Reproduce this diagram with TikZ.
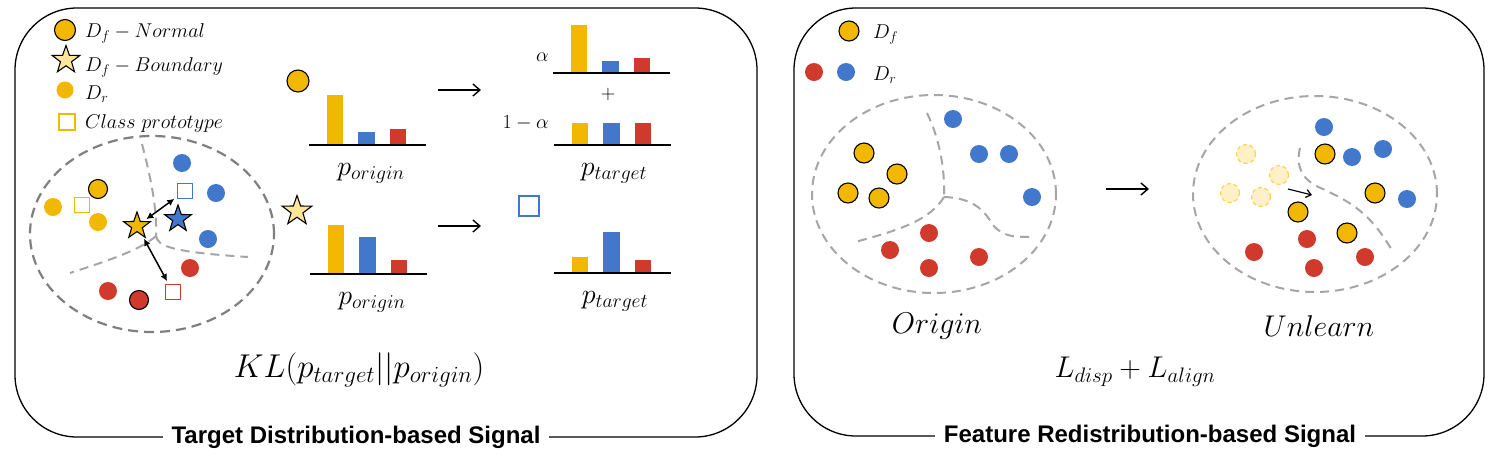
\RequirePackage{fix-cm}
\documentclass[tikz,border=0pt]{standalone}
\usepackage{fontspec}
\newfontfamily\headfont{Liberation Sans}
\usetikzlibrary{arrows.meta,shapes.geometric,positioning}

\definecolor{cgold}{HTML}{F2B800}
\definecolor{cblue}{HTML}{4178CC}
\definecolor{cred}{HTML}{D03A2D}
\definecolor{cpale}{HTML}{FFE699}
\definecolor{cfade}{HTML}{FFF0C8}
\definecolor{cfadeline}{HTML}{FFD250}
\definecolor{cdash}{HTML}{7F7F7F}
\definecolor{clight}{HTML}{A6A6A6}

\tikzset{
  panel/.style={line width=1.3pt,rounded corners=62pt,fill=white},
  paneltitle/.style={fill=white,inner xsep=9pt,font=\headfont\bfseries\fontsize{24}{28}\selectfont},
  fdot/.style={circle,draw=black,line width=1.1pt,fill=#1,minimum size=20pt,inner sep=0pt},
  fdot/.default=cgold,
  rdot/.style={circle,fill=#1,minimum size=18pt,inner sep=0pt},
  ghost/.style={circle,draw=cfadeline,line width=1.2pt,dash pattern=on 4pt off 3pt,fill=cfade,minimum size=19pt,inner sep=0pt},
  proto/.style={draw=#1,line width=1.5pt,minimum size=15pt,inner sep=0pt},
  fstar/.style={star,star points=5,star point ratio=2.5,draw=black,line width=1.1pt,fill=#1,minimum size=29pt,inner sep=0pt},
  clusteredge/.style={draw=cdash,line width=2.2pt,dash pattern=on 10pt off 6pt},
  boundary/.style={draw=clight,line width=2pt,dash pattern=on 9pt off 6pt},
  lbl/.style={font=\fontsize{20}{24}\selectfont,inner sep=0pt},
  plbl/.style={font=\fontsize{28}{32}\selectfont,inner sep=0pt},
  biglbl/.style={font=\fontsize{30}{34}\selectfont,inner sep=0pt},
  flow/.style={line width=1.4pt,-{Straight Barb[length=7pt,width=12pt]}},
  pull/.style={line width=1.5pt,{Latex[length=7pt,width=7pt]}-{Latex[length=7pt,width=7pt]}}
}

% #1 left x, #2 baseline y, #3-#5 bar heights
\newcommand{\distbars}[5]{%
  \fill[cgold] (#1+18,#2) rectangle ++(16,-#3);
  \fill[cblue] (#1+49,#2) rectangle ++(17,-#4);
  \fill[cred] (#1+81,#2) rectangle ++(16,-#5);
  \draw[line width=1.6pt] (#1,#2) -- ++(117,0);
}

\begin{document}
\begin{tikzpicture}[x=1pt,y=-1pt]
\useasboundingbox (0,0) rectangle (1497,467);

% left panel
\draw[panel] (15,8) rectangle (757,437);
\node[paneltitle] (ltitle) at (356,437) {Target Distribution-based Signal};

% legend
\node[fdot,minimum size=21pt] (lgnorm) at (65,30) {};
\node[fstar=cpale] (lgbound) at (66,60) {};
\node[rdot=cgold,minimum size=17pt] (lgret) at (65,90) {};
\node[proto=cgold,minimum size=16pt] (lgproto) at (67,122) {};
\node[lbl,anchor=base west] (lgnormtxt) at (85,37) {$D_f - Normal$};
\node[lbl,anchor=base west] (lgboundtxt) at (85,71) {$D_f - Boundary$};
\node[lbl,anchor=base west] (lgrettxt) at (85,99) {$D_r$};
\node[lbl,anchor=base west] (lgprototxt) at (85,128) {$Class\ prototype$};

% feature cluster
\draw[clusteredge] (152,234) ellipse [x radius=122pt,y radius=98pt];
\draw[boundary] (142,144) .. controls (150,175) and (157,205) .. (156,236);
\draw[boundary] (156,236) .. controls (158,246) and (170,252) .. (248,257);
\draw[boundary] (156,236) .. controls (140,250) and (110,260) .. (70,273);

\node[rdot=cgold] (y1) at (53,207) {};
\node[rdot=cgold] (y2) at (98,222) {};
\node[fdot,minimum size=19pt] (yf) at (98,189) {};
\node[proto=cgold] (yproto) at (82,205) {};
\node[rdot=cblue] (b1) at (182,163) {};
\node[rdot=cblue] (b2) at (216,193) {};
\node[rdot=cblue] (b3) at (208,239) {};
\node[proto=cblue] (bproto) at (185,191) {};
\node[rdot=cred] (r1) at (190,268) {};
\node[rdot=cred] (r2) at (108,291) {};
\node[fdot=cred,minimum size=19pt] (rf) at (139,300) {};
\node[proto=cred] (rproto) at (173,292) {};
\node[fstar=cgold,minimum size=28pt] (ystar) at (137,226) {};
\node[fstar=cblue,minimum size=28pt] (bstar) at (178,219) {};

\draw[pull,shorten <=3pt,shorten >=3pt] (ystar) -- (bproto);
\draw[pull,shorten <=3pt,shorten >=3pt] (ystar) -- (rproto);

% target distributions
\node[fdot,minimum size=22pt] (normal) at (298,81) {};
\distbars{309}{145}{50}{13}{16}
\node[plbl] (porig1) at (371,173) {$p_{origin}$};
\coordinate (f1s) at (438,90);
\coordinate (f1e) at (481,90);
\draw[flow] (f1s) -- (f1e);
\distbars{553}{73}{48}{12}{15}
\node[lbl,anchor=east] (alpha) at (549,57) {$\alpha$};
\node[lbl] (plus) at (608,94) {$+$};
\distbars{554}{145}{22}{22}{22}
\node[lbl,anchor=east] (calpha) at (549,123) {$1-\alpha$};
\node[plbl] (ptarg1) at (614,173) {$p_{target}$};

\node[fstar=cpale,minimum size=31pt] (bound) at (297,211) {};
\distbars{310}{274}{49}{37}{14}
\node[plbl] (porig2) at (372,302) {$p_{origin}$};
\coordinate (f2s) at (438,226);
\coordinate (f2e) at (481,226);
\draw[flow] (f2s) -- (f2e);
\node[proto=cblue,minimum size=20pt] (tproto) at (529,206) {};
\distbars{554}{273}{16}{41}{13}
\node[plbl] (ptarg2) at (615,301) {$p_{target}$};

\node[font=\fontsize{33}{38}\selectfont,inner sep=0pt] (kl) at (359,370) {$KL(p_{target}||p_{origin})$};

% right panel
\draw[panel] (794,8) rectangle (1484,436);
\node[paneltitle] (rtitle) at (1150,436) {Feature Redistribution-based Signal};

\node[fdot] (rgforget) at (849,31) {};
\node[rdot=cred] (rgred) at (814,72) {};
\node[rdot=cblue] (rgblue) at (846,72) {};
\node[lbl,anchor=base west] (rgforgettxt) at (873,38) {$D_f$};
\node[lbl,anchor=base west] (rgrettxt) at (873,80) {$D_r$};

% origin
\draw[boundary] (934,194) ellipse [x radius=122pt,y radius=99pt];
\draw[boundary] (927,113) .. controls (940,140) and (945,170) .. (944,197);
\draw[boundary] (944,197) .. controls (975,198) and (985,212) .. (993,225) .. controls (1003,237) and (1015,237) .. (1030,237);
\draw[boundary] (944,197) .. controls (930,220) and (900,230) .. (855,242);
\node[fdot] (o1) at (864,153) {};
\node[fdot] (o2) at (897,174) {};
\node[fdot] (o3) at (848,193) {};
\node[fdot] (o4) at (879,198) {};
\node[rdot=cblue] (o5) at (953,119) {};
\node[rdot=cblue] (o6) at (979,154) {};
\node[rdot=cblue] (o7) at (1009,154) {};
\node[rdot=cblue] (o8) at (1032,197) {};
\node[rdot=cred] (o9) at (929,233) {};
\node[rdot=cred] (o10) at (890,250) {};
\node[rdot=cred] (o11) at (929,268) {};
\node[rdot=cred] (o12) at (979,257) {};
\node[biglbl] (origin) at (937,326) {$Origin$};

\coordinate (f3s) at (1106,189);
\coordinate (f3e) at (1149,189);
\draw[flow] (f3s) -- (f3e);

% unlearn
\draw[boundary] (1315,194) ellipse [x radius=122pt,y radius=98pt];
\draw[boundary] (1300,148) .. controls (1296,165) and (1300,180) .. (1323,189) .. controls (1350,202) and (1370,212) .. (1393,252);
\node[ghost] (g1) at (1246,154) {};
\node[ghost] (g2) at (1279,175) {};
\node[ghost] (g3) at (1230,193) {};
\node[ghost] (g4) at (1261,197) {};
\node[fdot] (u1) at (1325,154) {};
\node[fdot] (u2) at (1375,193) {};
\node[fdot] (u3) at (1298,212) {};
\node[fdot] (u4) at (1347,233) {};
\node[rdot=cblue] (u5) at (1324,127) {};
\node[rdot=cblue] (u6) at (1352,157) {};
\node[rdot=cblue] (u7) at (1383,149) {};
\node[rdot=cblue] (u8) at (1407,199) {};
\node[rdot=cred] (u9) at (1307,239) {};
\node[rdot=cred] (u10) at (1254,252) {};
\node[rdot=cred] (u11) at (1314,268) {};
\node[rdot=cred] (u12) at (1365,257) {};
\coordinate (mvs) at (1288,189);
\coordinate (mve) at (1312,195);
\draw[line width=1.2pt,-{Straight Barb[length=5pt,width=8pt]}] (mvs) -- (mve);
\node[biglbl] (unlearn) at (1319,326) {$Unlearn$};

\node[biglbl] (loss) at (1135,372) {$L_{disp}+L_{align}$};
\end{tikzpicture}
\end{document}
